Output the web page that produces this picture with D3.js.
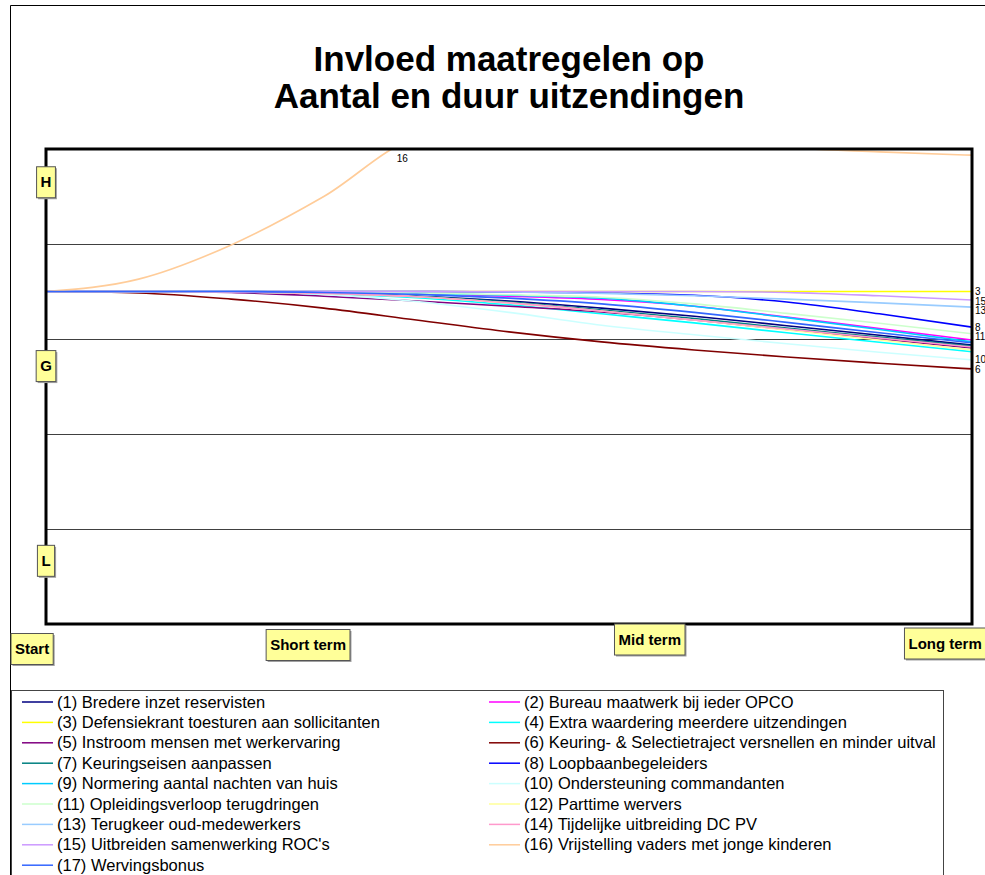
<!DOCTYPE html>
<html>
<head>
<meta charset="utf-8">
<script src="https://cdn.jsdelivr.net/npm/d3@7"></script>
<style>
  html, body { margin: 0; padding: 0; background: #fff; }
  svg { display: block; font-family: "Liberation Sans", Arial, sans-serif; }
</style>
</head>
<body>
<svg id="chart" width="985" height="875"></svg>
<script>
// ---------------- DATA ----------------
const titleLines = ["Invloed maatregelen op", "Aantal en duur uitzendingen"];

const categories = [
  "(1) Bredere inzet reservisten",
  "(2) Bureau maatwerk bij ieder OPCO",
  "(3) Defensiekrant toesturen aan sollicitanten",
  "(4) Extra waardering meerdere uitzendingen",
  "(5) Instroom mensen met werkervaring",
  "(6) Keuring- & Selectietraject versnellen en minder uitval",
  "(7) Keuringseisen aanpassen",
  "(8) Loopbaanbegeleiders",
  "(9) Normering aantal nachten van huis",
  "(10) Ondersteuning commandanten",
  "(11) Opleidingsverloop terugdringen",
  "(12) Parttime wervers",
  "(13) Terugkeer oud-medewerkers",
  "(14) Tijdelijke uitbreiding DC PV",
  "(15) Uitbreiden samenwerking ROC's",
  "(16) Vrijstelling vaders met jonge kinderen",
  "(17) Wervingsbonus"
];

const colors = [
  "#000080", "#FF00FF", "#FFFF00", "#00FFFF", "#800080", "#800000",
  "#008080", "#0000FF", "#00CCFF", "#CCFFFF", "#CCFFCC", "#FFFF99",
  "#99CCFF", "#FF99CC", "#CC99FF", "#FFCC99", "#3366FF"
];

// time axis (0 = start, 100 = long term)
const timePoints = [0, 10, 20, 30, 40, 50, 60, 70, 80, 90, 100];

const series01 = [70, 70, 69.9, 69.6, 69.0, 68.0, 66.5, 64.8, 62.8, 60.8, 58.7];
const series02 = [70, 70, 70, 69.9, 69.6, 69.0, 68.3, 66.9, 64.6, 62.2, 59.8];
const series03 = [70, 70, 70, 70, 70, 70, 70, 70, 70, 70, 70];
const series04 = [70, 70, 69.9, 69.5, 68.7, 67.2, 65.3, 63.4, 61.3, 59.3, 57.3];
const series05 = [70, 70, 69.8, 69.0, 68.0, 66.9, 65.7, 64.0, 62.0, 60.0, 58.1];
const series06 = [70, 69.7, 68.4, 66.5, 64.0, 61.5, 59.4, 57.7, 56.2, 54.9, 53.7];
const series07 = [70, 70, 69.9, 69.6, 69.0, 67.8, 66.1, 64.3, 62.3, 60.4, 58.5];
const series08 = [70, 70, 70, 70, 70, 69.9, 69.7, 69.2, 67.8, 65.3, 62.5];
const series09 = [70, 70, 70, 69.9, 69.6, 69.2, 68.6, 66.9, 64.5, 62.0, 59.4];
const series10 = [70, 70, 69.9, 69.4, 67.9, 65.6, 62.9, 60.9, 59.0, 57.2, 55.6];
const series11 = [70, 70, 70, 69.9, 69.7, 69.3, 68.8, 67.4, 65.4, 63.3, 61.1];
const series12 = [70, 70, 69.9, 69.6, 68.9, 67.6, 65.9, 64.0, 61.9, 59.8, 57.7];
const series13 = [70, 70, 70, 70, 70, 69.9, 69.6, 69.1, 68.4, 67.6, 66.7];
const series14 = [70, 70, 69.9, 69.6, 68.9, 67.6, 65.9, 64.0, 62.1, 60.2, 58.3];
const series15 = [70, 70, 70, 70, 70, 70, 70, 70, 69.8, 69.1, 68.2];
const series16 = [70, 72.6, 79.8, 90.0, 102.2, 104.5, 105, 103.5, 100.4, 99.4, 98.7];
const series17 = [70, 70, 70, 69.8, 69.4, 68.6, 67.4, 65.6, 63.5, 61.3, 59.2];

const seriesValues = [series01, series02, series03, series04, series05, series06,
  series07, series08, series09, series10, series11, series12, series13, series14,
  series15, series16, series17];

// which series get a number at the right end
const endLabelSeries = [3, 15, 13, 8, 11, 10, 6];
// series labelled where it leaves the top of the chart
const topLabelSeries = [16];

// level labels on the value axis and the value they sit at
const levelLabels = ["H", "G", "L"];
const levelValues = [93, 54.3, 13.3];
const gridValues = [20, 40, 60, 80];

// milestone labels along the time axis and the time they sit at
const milestoneLabels = ["Start", "Short term", "Mid term", "Long term"];
const milestoneTimes = [-1.5, 28.3, 65.2, 97.1];

// ---------------- LAYOUT ----------------
const W = 985, H = 875;
const plot = { left: 46, right: 972, top: 149, bottom: 624 };
const milestoneCenterY = [649, 645, 639.5, 643.5];

const svg = d3.select("#chart");

const x = d3.scaleLinear().domain([0, 100]).range([plot.left, plot.right]);
const y = d3.scaleLinear().domain([0, 100]).range([plot.bottom, plot.top]);

// outer frame
svg.append("path")
  .attr("d", `M10.5,${H + 5} L10.5,5.5 L${W + 5},5.5`)
  .attr("fill", "none").attr("stroke", "#000").attr("stroke-width", 1);

// title
svg.selectAll("text.title").data(titleLines).join("text")
  .attr("class", "title")
  .attr("x", (plot.left + plot.right) / 2)
  .attr("y", (d, i) => 71 + i * 37)
  .attr("text-anchor", "middle")
  .attr("font-weight", "bold")
  .attr("font-size", 35)
  .attr("fill", "#000")
  .text(d => d);

// grid lines
svg.append("g").selectAll("line").data(gridValues).join("line")
  .attr("x1", plot.left).attr("x2", plot.right)
  .attr("y1", d => Math.round(y(d)) + 0.5).attr("y2", d => Math.round(y(d)) + 0.5)
  .attr("stroke", "#404040").attr("stroke-width", 1.2);

// clip
svg.append("clipPath").attr("id", "plotclip").append("rect")
  .attr("x", plot.left).attr("y", plot.top)
  .attr("width", plot.right - plot.left).attr("height", plot.bottom - plot.top);

const line = d3.line()
  .x((d, i) => x(timePoints[i]))
  .y(d => y(d))
  .curve(d3.curveMonotoneX);

svg.append("g").attr("clip-path", "url(#plotclip)")
  .selectAll("path").data(seriesValues).join("path")
  .attr("d", d => line(d))
  .attr("fill", "none")
  .attr("stroke", (d, i) => colors[i])
  .attr("stroke-width", 1.6);

// plot border
svg.append("rect")
  .attr("x", plot.left).attr("y", plot.top)
  .attr("width", plot.right - plot.left).attr("height", plot.bottom - plot.top)
  .attr("fill", "none").attr("stroke", "#000").attr("stroke-width", 3);

// end labels (with simple dodge)
const endLabs = endLabelSeries.map(n => ({ n, yy: y(seriesValues[n - 1][timePoints.length - 1]) }))
  .sort((a, b) => a.yy - b.yy);
for (let i = 1; i < endLabs.length; i++) {
  if (endLabs[i].yy - endLabs[i - 1].yy < 9.5) endLabs[i].yy = endLabs[i - 1].yy + 9.5;
}
svg.append("g").selectAll("text").data(endLabs).join("text")
  .attr("x", plot.right + 3)
  .attr("y", d => d.yy + 3.5)
  .attr("font-size", 10)
  .attr("fill", "#000")
  .text(d => d.n);

// top crossing label
topLabelSeries.forEach(n => {
  const v = seriesValues[n - 1];
  for (let i = 1; i < v.length; i++) {
    if (v[i - 1] < 100 && v[i] >= 100) {
      const t = timePoints[i - 1] + (timePoints[i] - timePoints[i - 1]) * (100 - v[i - 1]) / (v[i] - v[i - 1]);
      svg.append("text")
        .attr("x", x(t) - 3).attr("y", y(100) + 13)
        .attr("font-size", 10).attr("fill", "#000").text(n);
      break;
    }
  }
});

// boxed labels helper
function boxLabel(cx, cy, txt, minW, h) {
  const g = svg.append("g");
  const t = g.append("text")
    .attr("x", cx).attr("y", cy + 5)
    .attr("text-anchor", "middle")
    .attr("font-weight", "bold").attr("font-size", 15)
    .attr("fill", "#000").text(txt);
  const tw = t.node().getComputedTextLength();
  const bw = Math.max(minW, tw + 8);
  g.insert("rect", "text")
    .attr("x", cx - bw / 2 + 1.5).attr("y", cy - h / 2 + 1.5)
    .attr("width", bw).attr("height", h)
    .attr("fill", "#a0a0a0");
  g.insert("rect", "text")
    .attr("x", cx - bw / 2).attr("y", cy - h / 2)
    .attr("width", bw).attr("height", h)
    .attr("fill", "#FFFF99").attr("stroke", "#555").attr("stroke-width", 1);
}

levelLabels.forEach((lab, i) => boxLabel(plot.left, y(levelValues[i]), lab, 17, 31));
milestoneLabels.forEach((lab, i) => boxLabel(x(milestoneTimes[i]), milestoneCenterY[i], lab, 20, 31));

// legend
const legTop = 690;
svg.append("rect")
  .attr("x", 11.5).attr("y", legTop + 0.5)
  .attr("width", 932).attr("height", 200)
  .attr("fill", "#fff").attr("stroke", "#444").attr("stroke-width", 1);

const leg = svg.append("g").selectAll("g").data(categories).join("g")
  .attr("transform", (d, i) => `translate(${i % 2 === 0 ? 22 : 489},${legTop + 12 + Math.floor(i / 2) * 20.4})`);
leg.append("line")
  .attr("x1", 0).attr("x2", 31).attr("y1", 0).attr("y2", 0)
  .attr("stroke", (d, i) => colors[i]).attr("stroke-width", 1.5);
leg.append("text")
  .attr("x", 35).attr("y", 5.5)
  .attr("font-size", 16.5).attr("fill", "#000")
  .text(d => d);
</script>
</body>
</html>
